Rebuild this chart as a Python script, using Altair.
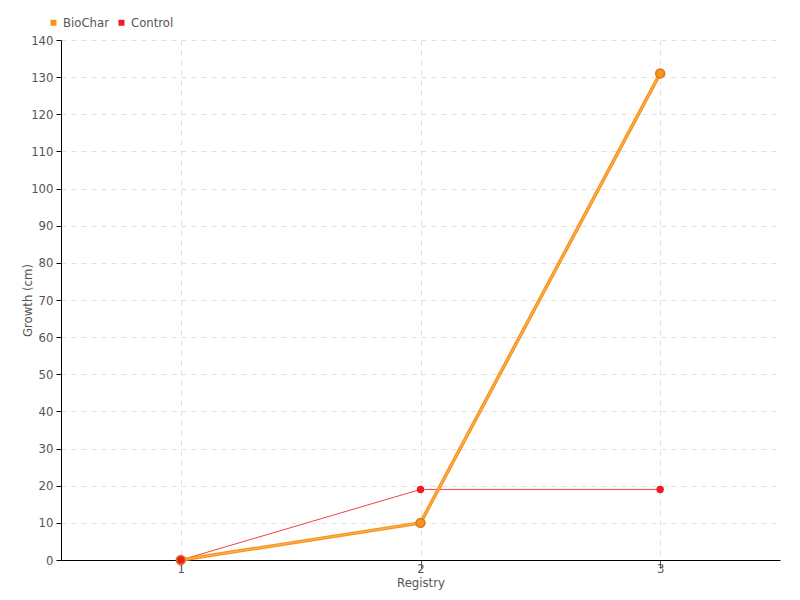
import altair as alt
import pandas as pd

registry = ["1", "2", "3"]
biochar = [0, 10, 131]
control = [0, 19, 19]
series_names = ["BioChar", "Control"]
colors = ["#f7941d", "#ed1c24"]

rows = []
for r, b, c in zip(registry, biochar, control):
    rows.append({"Registry": r, "Growth": b, "Series": "BioChar"})
    rows.append({"Registry": r, "Growth": c, "Series": "Control"})
df = pd.DataFrame(rows)

FONT = "Liberation Sans Narrow, DejaVu Sans Condensed, Roboto, sans-serif"

x = alt.X("Registry:O", title="Registry",
          scale=alt.Scale(type="point", padding=0.5),
          axis=alt.Axis(labelAngle=0, grid=True, gridDash=[5, 5], gridColor="#e0e0e0",
                        domainColor="#000", tickColor="#555", tickSize=8,
                        labelColor="#555", titleColor="#555", labelFontSize=13,
                        titleFontSize=13, titleFontWeight="normal", titlePadding=1,
                        labelFont=FONT, titleFont=FONT, labelPadding=-6))
y = alt.Y("Growth:Q", title="Growth (cm)",
          scale=alt.Scale(domain=[0, 140], nice=False),
          axis=alt.Axis(values=list(range(0, 141, 10)), grid=True, gridDash=[5, 5],
                        gridColor="#e0e0e0", domainColor="#000", tickColor="#000",
                        tickSize=5, labelColor="#555", titleColor="#555",
                        labelFontSize=13, titleFontSize=13, titleFontWeight="normal",
                        labelFont=FONT, titleFont=FONT, titlePadding=-4, labelPadding=3))
color = alt.Color("Series:N", scale=alt.Scale(domain=series_names, range=colors),
                  legend=alt.Legend(title=None, orient="none", legendX=-14, legendY=-24,
                                    direction="horizontal", symbolType="square",
                                    symbolSize=36, labelFont=FONT, labelFontSize=13,
                                    labelColor="#555", columnPadding=6, labelOffset=3,
                                    symbolStrokeWidth=0))

bio = df[df.Series == "BioChar"]
ctl = df[df.Series == "Control"]

ctl_line = alt.Chart(ctl).mark_line(strokeWidth=1, color="#f0404a").encode(x=x, y=y)
ctl_pts = alt.Chart(ctl).mark_point(filled=True, size=55, opacity=1).encode(x=x, y=y, color=color)
bio_line = alt.Chart(bio).mark_line(strokeWidth=3.5, color="#f7941d").encode(x=x, y=y)
bio_line2 = alt.Chart(bio).mark_line(strokeWidth=1, color="#fbb45a").encode(x=x, y=y)
bio_pts = alt.Chart(bio).mark_point(filled=True, size=80, opacity=1,
                                    stroke="#d9781a", strokeWidth=1.5).encode(x=x, y=y, color=color)

chart = alt.layer(ctl_line, bio_line, bio_line2, bio_pts, ctl_pts).properties(
    width=719, height=520,
    autosize=alt.AutoSizeParams(type="none"),
    padding={"left": 53, "top": 32, "right": 12, "bottom": 40},
).configure_view(stroke=None)

chart.save("out.html", embed_options={"renderer": "svg", "actions": False})
